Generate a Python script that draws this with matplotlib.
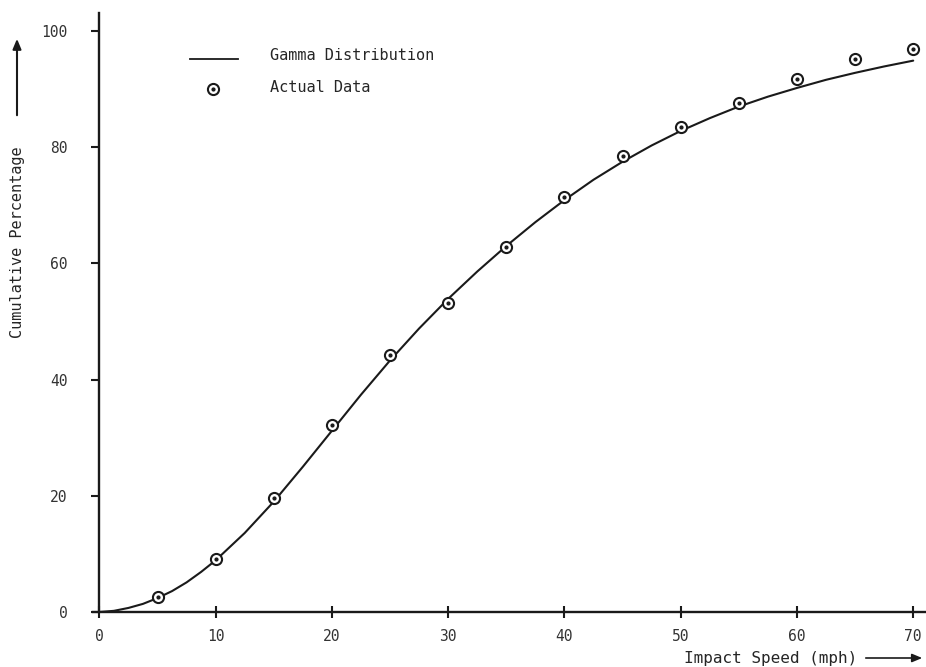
import matplotlib
matplotlib.use("Agg")
import matplotlib.pyplot as plt
from matplotlib.patches import FancyArrowPatch

# Actual data (impact speed, cumulative %)
speed = [5, 10, 15, 20, 25, 30, 35, 40, 45, 50, 55, 60, 65, 70]
actual = [2.6, 9.1, 19.6, 32.2, 44.2, 53.2, 62.8, 71.4, 78.5, 83.5, 87.6, 91.7, 95.1, 96.9]

# Gamma distribution curve
curve_x = [0, 1.25, 2.5, 3.75, 5, 6.25, 7.5, 8.75, 10, 12.5, 15, 17.5, 20, 22.5, 25, 27.5,
           30, 32.5, 35, 37.5, 40, 42.5, 45, 47.5, 50, 52.5, 55, 57.5, 60, 62.5,
           65, 67.5, 70]
curve_y = [0, 0.2, 0.7, 1.4, 2.4, 3.6, 5.1, 6.9, 8.9, 13.6, 19.0, 25.0, 31.2, 37.4, 43.3, 48.8,
           53.9, 58.6, 63.0, 67.1, 70.9, 74.4, 77.5, 80.3, 82.8, 85.0, 87.0, 88.7, 90.2, 91.6,
           92.8, 93.9, 94.9]

x_ticks = [0, 10, 20, 30, 40, 50, 60, 70]
y_ticks = [0, 20, 40, 60, 80, 100]

mono = "DejaVu Sans Mono"
ink = "#1a1a1a"
txt = "#262626"

W, H = 926, 667
fig = plt.figure(figsize=(W / 100, H / 100), dpi=100)
ax = fig.add_axes([93 / W, 55 / H, (926 - 93) / W, (612 - 13) / H])

ax.plot(curve_x, curve_y, color=ink, lw=1.5, solid_capstyle="round", solid_joinstyle="round")
ax.plot(speed, actual, linestyle="none", marker="o", ms=8, mfc="white",
        mec=ink, mew=1.5)
ax.plot(speed, actual, linestyle="none", marker="o", ms=2, mfc=ink, mec=ink)

ax.set_xlim(-0.55, 71.1)
ax.set_ylim(0, 103.1)
ax.spines["top"].set_visible(False)
ax.spines["right"].set_visible(False)
ax.spines["left"].set_position(("data", 0))
for s in ("left", "bottom"):
    ax.spines[s].set_color(ink)
    ax.spines[s].set_linewidth(1.7)

ax.set_xticks(x_ticks)
ax.set_yticks(y_ticks)
ax.set_xticklabels([str(v) for v in x_ticks], fontfamily=mono, fontsize=10.5, color="#333333")
ax.set_yticklabels([str(v) for v in y_ticks], fontfamily=mono, fontsize=10.5, color="#333333")
ax.tick_params(axis="x", direction="inout", length=8, width=1.5, pad=8, color=ink)
ax.tick_params(axis="y", direction="out", length=6, width=1.5, pad=17, color=ink)

# Legend drawn manually in figure coordinates
lt = fig.transFigure
fig.lines.append(plt.Line2D([190 / W, 238 / W], [1 - 59 / H, 1 - 59 / H], color=ink, lw=1.3,
                            transform=lt))
fig.text(270 / W, 1 - 56 / H, "Gamma Distribution", fontfamily=mono, fontsize=11,
         color=txt, va="center", ha="left")
fig.lines.append(plt.Line2D([213 / W], [1 - 89 / H], marker="o", ms=8, mfc="white", mec=ink,
                            mew=1.5, linestyle="none", transform=lt))
fig.lines.append(plt.Line2D([213 / W], [1 - 89 / H], marker="o", ms=2, mfc=ink, mec=ink,
                            linestyle="none", transform=lt))
fig.text(270 / W, 1 - 87 / H, "Actual Data", fontfamily=mono, fontsize=11,
         color=txt, va="center", ha="left")

# Y axis label with upward arrow
fig.text(18 / W, 1 - 242 / H, "Cumulative Percentage", rotation=90, fontfamily=mono,
         fontsize=11, color=txt, ha="center", va="center")
fig.add_artist(FancyArrowPatch(
    (17 / W, 1 - 118 / H), (17 / W, 1 - 36 / H), transform=lt,
    arrowstyle="-|>,head_length=6,head_width=2.5", color=ink, lw=1.5))

# X axis label with rightward arrow
fig.text(857 / W, 1 - 658 / H, "Impact Speed (mph)", fontfamily=mono, fontsize=11.5,
         color=txt, ha="right", va="center")
fig.add_artist(FancyArrowPatch(
    (863 / W, 1 - 658 / H), (925 / W, 1 - 658 / H), transform=lt,
    arrowstyle="-|>,head_length=6,head_width=2.5", color=ink, lw=1.2))

fig.savefig("out.png", dpi=100, facecolor="white")
